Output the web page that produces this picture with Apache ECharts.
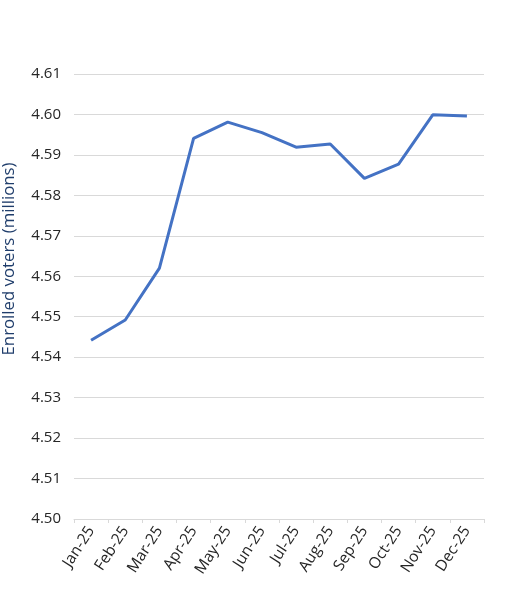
<!DOCTYPE html>
<html>
<head>
<meta charset="utf-8">
<script src="https://cdn.jsdelivr.net/npm/echarts@6/dist/echarts.min.js"></script>
<style>
html,body{margin:0;padding:0;background:#fff;}
#chart{width:508px;height:597px;}
</style>
</head>
<body>
<div id="chart"></div>
<script>
var categories = ['Jan-25','Feb-25','Mar-25','Apr-25','May-25','Jun-25','Jul-25','Aug-25','Sep-25','Oct-25','Nov-25','Dec-25'];
var enrolled = [4.5442, 4.5492, 4.5620, 4.5941, 4.5981, 4.5955, 4.5919, 4.5927, 4.5842, 4.5877, 4.5999, 4.5996];
var yTitle = 'Enrolled voters (millions)';

var chart = echarts.init(document.getElementById('chart'), null, {renderer:'canvas'});
chart.setOption({
  animation:false,
  grid:{left:74, right:24, top:74, bottom:78, containLabel:false},
  xAxis:{
    type:'category',
    data:categories,
    boundaryGap:true,
    axisLine:{lineStyle:{color:'#d9d9d9', width:1}},
    axisTick:{show:true, length:4, lineStyle:{color:'#d9d9d9'}},
    axisLabel:{rotate:57, margin:9, fontFamily:'Open Sans', fontSize:15.5, color:'#262626', interval:0}
  },
  yAxis:{
    type:'value',
    min:4.50, max:4.61, interval:0.01,
    axisLine:{show:false},
    axisTick:{show:false},
    splitLine:{lineStyle:{color:'#d9d9d9', width:1}},
    axisLabel:{margin:13, fontFamily:'Open Sans', fontSize:15, color:'#262626',
      formatter:function(v){return v.toFixed(2);}}
  },
  graphic:[{
    type:'text',
    x:9, y:259,
    rotation:Math.PI/2,
    style:{text:yTitle, fill:'#1f3d6b', font:'16.8px "Open Sans"', align:'center', verticalAlign:'middle'}
  }],
  series:[{
    type:'line',
    data:enrolled,
    symbol:'none',
    lineStyle:{color:'#4472c4', width:3},
    z:5
  }]
});
</script>
</body>
</html>
